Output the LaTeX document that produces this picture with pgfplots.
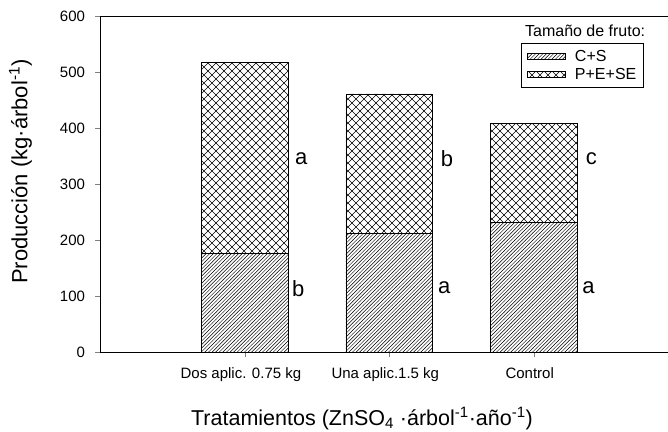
\documentclass[border=0pt]{standalone}
\usepackage{fontspec}
\setmainfont{Liberation Sans}
\usepackage{pgfplots}
\pgfplotsset{compat=1.18}
\usetikzlibrary{patterns}

% diagonal lines
\pgfdeclarepatternformonly{dlines}{\pgfqpoint{-1pt}{-1pt}}{\pgfqpoint{4.6pt}{4.6pt}}{\pgfqpoint{3.6pt}{3.6pt}}{
  \pgfsetlinewidth{0.45pt}
  \pgfpathmoveto{\pgfqpoint{-0.1pt}{-0.1pt}}
  \pgfpathlineto{\pgfqpoint{3.7pt}{3.7pt}}
  \pgfusepath{stroke}}
% diagonal cross hatch
\pgfdeclarepatternformonly{dcross}{\pgfqpoint{-1pt}{-1pt}}{\pgfqpoint{9pt}{9pt}}{\pgfqpoint{8pt}{8pt}}{
  \pgfsetlinewidth{0.55pt}
  \pgfpathmoveto{\pgfqpoint{-0.1pt}{-0.1pt}}
  \pgfpathlineto{\pgfqpoint{8.1pt}{8.1pt}}
  \pgfpathmoveto{\pgfqpoint{-0.1pt}{8.1pt}}
  \pgfpathlineto{\pgfqpoint{8.1pt}{-0.1pt}}
  \pgfusepath{stroke}}

\pgfplotsset{widebar legend/.style={legend image code/.code={\draw[##1] (0pt,-3pt) rectangle (38pt,3pt);}}}

\begin{document}
\begin{tikzpicture}
\begin{axis}[
  scale only axis, width=567.5pt, height=336pt,
  xmin=0, xmax=3.93, ymin=0, ymax=600,
  axis x line*=box, axis y line*=left,
  tick pos=left,
  tick align=outside, major tick length=5pt,
  xtick={1,2,3},
  xticklabels={Dos aplic. 0.75 kg, Una aplic.1.5 kg, Control},
  ytick={0,100,200,300,400,500,600},
  yticklabels={0,100,200,300,400,500,600},
  tick label style={font=\fontsize{15}{18}\selectfont},
  xticklabel style={yshift=-7.5pt, xshift=-4pt},
  yticklabel style={xshift=-7pt},
  ybar stacked, bar width=0.6,
  xlabel={Tratamientos (ZnSO\textsubscript{4} ·árbol\textsuperscript{-1}·año\textsuperscript{-1})},
  ylabel={Producción (kg·árbol\textsuperscript{-1})},
  every axis x label/.style={at={(rel axis cs:0.4608,0)}, yshift=-66.5pt, anchor=center,
    font=\fontsize{21.5}{24}\selectfont},
  every axis y label/.style={at={(rel axis cs:0,0.537)}, xshift=-80pt, rotate=90, anchor=center,
    font=\fontsize{22}{25}\selectfont},
  legend style={at={(rel axis cs:0.7404,0.9188)}, anchor=north west, draw=black,
    font=\fontsize{16}{18}\selectfont, nodes={inner sep=0.5pt},
    inner xsep=6pt, inner ysep=6pt, row sep=4.5pt, column sep=9pt},
  legend cell align=left,
]
\addplot[draw=black, line width=0.6pt, pattern=dlines, widebar legend]
  coordinates {(1,176) (2,212) (3,231)};
\addplot[draw=black, line width=0.6pt, pattern=dcross, widebar legend]
  coordinates {(1,341) (2,249) (3,177)};
\legend{C+S, P+E+SE}
\coordinate (sw) at (rel axis cs:0,0);
\node[anchor=base west, font=\fontsize{16}{18}\selectfont] at (rel axis cs:0.742,0.9375) {Tamaño de fruto:};
\node[font=\fontsize{22}{25}\selectfont] at (axis cs:1.39,345) {a};
\node[font=\fontsize{22}{25}\selectfont] at (axis cs:1.37,114) {b};
\node[font=\fontsize{22}{25}\selectfont] at (axis cs:2.40,345) {b};
\node[font=\fontsize{22}{25}\selectfont] at (axis cs:2.38,114) {a};
\node[font=\fontsize{22}{25}\selectfont] at (axis cs:3.40,345) {c};
\node[font=\fontsize{22}{25}\selectfont] at (axis cs:3.38,114) {a};
\end{axis}
\pgfresetboundingbox
\useasboundingbox ([shift={(-100.5pt,-79pt)}]sw) rectangle ([shift={(567.5pt,352pt)}]sw);
\end{tikzpicture}
\end{document}
